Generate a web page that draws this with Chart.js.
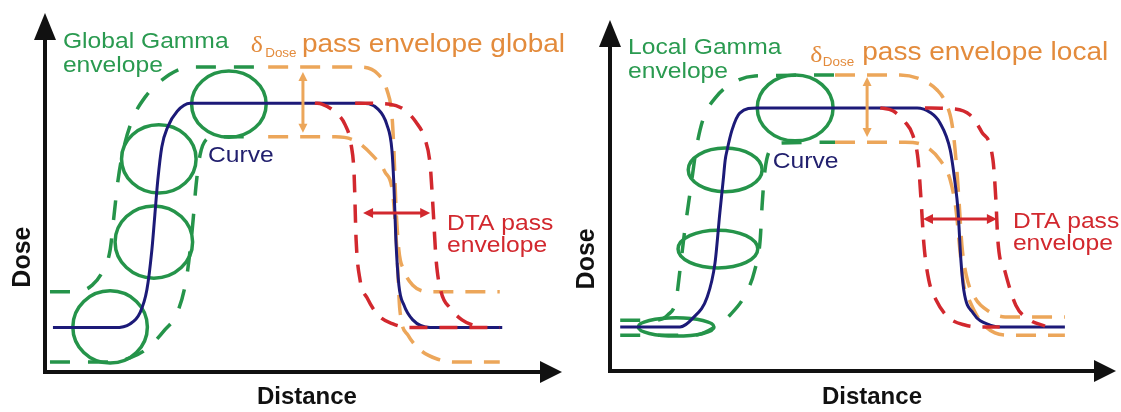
<!DOCTYPE html>
<html lang="en">
<head>
<meta charset="UTF-8">
<title>Global and local gamma envelopes</title>
<script src="https://cdn.jsdelivr.net/npm/chart.js"></script>
<style>
  body { margin: 0; background: #fff; }
  .row { position: relative; width: 1121px; height: 412px; overflow: hidden; }
  .row canvas { position: absolute; top: 0; }
</style>
</head>
<body>
<div class="row">
  <canvas id="globalChart" width="580" height="412" style="left:0"></canvas>
  <canvas id="localChart" width="561" height="412" style="left:560px"></canvas>
</div>
<script>
// axes run 0..100 in both panels ([distance, dose] pairs)

// left panel: global gamma
const globalCurve = [[1.6,13.3],[14.1,13.3],[17.1,14.4],[19.1,17.7],[20.5,24.6],[21.5,36.5],[22.1,47.0],[22.7,57.5],[23.5,67.4],[24.7,73.4],[26.6,78.1],[29.2,80.5],[63.4,80.5],[67.0,78.7],[68.8,74.0],[69.8,66.5],[70.2,56.0],[70.6,39.5],[71.2,26.0],[72.2,20.1],[74.0,15.6],[77.5,13.3],[92.0,13.3]];
const globalGammaUpper = [[1.0,24.0],[6.0,24.0],[9.5,26.0],[11.7,30.5],[13.1,36.5],[13.9,47.0],[14.7,57.5],[15.9,67.4],[17.7,76.0],[20.3,82.6],[23.5,87.4],[27.2,90.7],[30.2,91.3],[43.3,91.3]];
const globalGammaLower = [[1.0,3.0],[13.1,3.0],[17.1,4.2],[20.7,7.2],[24.1,12.6],[26.6,17.7],[28.4,27.5],[29.2,36.5],[29.8,45.5],[30.4,56.0],[31.2,65.0],[32.4,69.5],[34.2,70.4],[43.3,70.4]];
const globalDoseUpper = [[44.9,91.3],[63.4,91.3],[67.0,89.2],[68.8,84.4],[69.8,76.9],[70.2,66.5],[70.6,50.0],[71.2,36.5],[72.2,30.5],[74.0,26.0],[77.5,24.0],[91.5,24.0]];
const globalDoseLower = [[44.9,70.4],[58.4,70.4],[62.4,69.2],[65.8,65.0],[68.4,59.9],[70.0,53.0],[70.8,36.5],[71.4,18.6],[73.0,11.1],[75.5,6.6],[78.9,3.9],[82.5,3.0],[91.5,3.0]];
const globalDtaLeft = [[54.3,80.5],[55.7,80.2],[58.4,77.8],[60.4,74.0],[61.6,68.0],[62.2,59.0],[62.6,39.5],[63.4,27.5],[64.8,22.2],[67.0,17.1],[70.0,14.4],[73.4,13.3],[91.5,13.3]];
const globalDtaRight = [[62.4,80.5],[69.4,80.2],[72.4,78.4],[74.6,74.9],[76.5,69.5],[77.5,62.0],[78.1,48.5],[78.7,33.5],[79.7,24.0],[81.5,19.2],[83.9,15.6],[86.5,13.8],[88.0,13.3]];
const globalRingX = [13.1, 21.9, 22.9, 37.0];
const globalRingY = [13.5, 38.9, 63.8, 80.2];
const globalRingRx = [7.5, 7.8, 7.5, 7.5];
const globalRingRy = [10.8, 10.8, 10.2, 9.9];
const globalDoseArrow = [[51.9,71.6],[51.9,89.8]];
const globalDtaArrow = [[64.0,47.6],[77.5,47.6]];

// right panel: local gamma
const localCurve = [[2.1,13.5],[14.4,13.5],[17.1,16.3],[20.0,22.7],[21.6,33.1],[22.6,48.5],[23.3,58.6],[23.7,64.7],[24.1,67.8],[25.1,73.9],[26.7,79.1],[30.2,80.7],[63.2,80.7],[65.8,79.4],[67.9,76.1],[70.0,67.8],[71.0,57.7],[71.6,49.4],[72.2,34.0],[72.8,24.8],[74.7,17.8],[78.2,14.1],[81.3,13.5],[93.6,13.5]];
const localGammaUpper = [[2.1,15.6],[9.3,15.6],[11.9,17.2],[13.6,21.8],[14.4,31.0],[15.4,43.3],[16.7,57.1],[17.7,67.8],[19.1,77.0],[21.8,84.0],[25.7,88.7],[29.8,90.5],[46.3,90.8]];
const localGammaLower = [[2.1,11.0],[17.5,11.0],[21.6,13.5],[24.7,17.2],[27.8,23.3],[29.8,31.0],[30.9,40.2],[31.3,50.9],[31.9,61.7],[32.9,67.8],[35.0,69.9],[46.3,70.2]];
const localDoseUpper = [[46.3,90.8],[59.7,90.8],[64.2,89.3],[67.3,86.2],[69.1,82.2],[70.4,75.5],[71.2,64.7],[71.8,52.5],[72.4,38.7],[73.3,29.4],[75.1,22.4],[78.2,18.1],[81.3,16.6],[93.6,16.6]];
const localDoseLower = [[46.3,70.2],[60.7,70.2],[64.8,69.0],[67.9,64.7],[70.0,58.6],[71.2,49.4],[72.0,37.1],[72.8,26.4],[74.1,21.2],[76.1,15.6],[79.2,11.7],[82.3,11.0],[93.6,11.0]];
const localDtaLeft = [[55.6,80.7],[58.2,79.8],[60.7,76.4],[62.3,72.4],[63.4,64.7],[64.0,52.5],[64.6,38.7],[65.6,27.9],[67.1,21.8],[69.5,16.6],[73.0,14.1],[77.2,13.5],[80.2,13.5]];
const localDtaRight = [[64.8,80.7],[71.0,80.4],[74.1,78.5],[76.5,73.3],[78.8,64.7],[79.4,52.5],[79.8,40.2],[81.3,30.4],[83.5,20.2],[86.4,15.6],[89.5,13.8]];
const localRingX = [13.6, 22.2, 23.7, 38.1];
const localRingY = [13.5, 37.4, 61.7, 80.7];
const localRingRx = [7.8, 8.2, 7.6, 7.8];
const localRingRy = [2.8, 5.8, 6.7, 10.1];
const localDoseArrow = [[52.9,71.8],[52.9,90.2]];
const localDtaArrow = [[64.4,46.6],[79.6,46.6]];

const GREEN = '#25944a', GREEN_TXT = '#2a9a50';
const ORANGE = '#eca65a', ORANGE_TXT = '#e38b3c';
const RED = '#d2282e';
const NAVY = '#1c1a78', NAVY_TXT = '#22206e';
const SANS = '"Liberation Sans", Arial, sans-serif';
const SERIF = '"Liberation Serif", "Times New Roman", serif';
const STRETCH = 1.12;

function line(pts, color, width, dash) {
  return {
    data: pts.map(([x, y]) => ({x, y})),
    borderColor: color,
    borderWidth: width,
    borderDash: dash || [],
    borderCapStyle: 'butt',
    pointRadius: 0,
    fill: false,
    cubicInterpolationMode: 'monotone'
  };
}

function drawText(ctx, x, y, txt, font, color, rot) {
  ctx.save();
  ctx.translate(x, y);
  if (rot) ctx.rotate(rot);
  else ctx.scale(STRETCH, 1);
  ctx.font = font;
  ctx.fillStyle = color;
  ctx.textAlign = rot ? 'center' : 'left';
  ctx.textBaseline = rot ? 'middle' : 'alphabetic';
  ctx.fillText(txt, 0, 0);
  ctx.restore();
}

function dblArrow(ctx, x1, y1, x2, y2, color, w, head, half) {
  const a = Math.atan2(y2 - y1, x2 - x1), c = Math.cos(a), s = Math.sin(a);
  ctx.save();
  ctx.strokeStyle = color; ctx.fillStyle = color; ctx.lineWidth = w;
  ctx.beginPath();
  ctx.moveTo(x1 + c * head * 0.8, y1 + s * head * 0.8);
  ctx.lineTo(x2 - c * head * 0.8, y2 - s * head * 0.8);
  ctx.stroke();
  [[x1, y1, -1], [x2, y2, 1]].forEach(([px, py, k]) => {
    ctx.beginPath();
    ctx.moveTo(px, py);
    ctx.lineTo(px - k * c * head - s * half, py - k * s * head + c * half);
    ctx.lineTo(px - k * c * head + s * half, py - k * s * head - c * half);
    ctx.closePath();
    ctx.fill();
  });
  ctx.restore();
}

function extras(p) {
  return {
    id: 'extras',
    beforeDatasetsDraw(chart) {
      const {ctx, scales: {x, y}} = chart;
      ctx.save();
      ctx.strokeStyle = GREEN;
      ctx.lineWidth = 3.5;
      p.ringX.forEach((cx, i) => {
        const px = x.getPixelForValue(cx), py = y.getPixelForValue(p.ringY[i]);
        const rx = x.getPixelForValue(cx + p.ringRx[i]) - px;
        const ry = py - y.getPixelForValue(p.ringY[i] + p.ringRy[i]);
        ctx.beginPath();
        ctx.ellipse(px, py, rx, ry, 0, 0, Math.PI * 2);
        ctx.stroke();
      });
      ctx.restore();
    },
    afterDraw(chart) {
      const {ctx, chartArea: {left, right, top, bottom}, scales: {x, y}} = chart;
      const X = v => x.getPixelForValue(v), Y = v => y.getPixelForValue(v);
      // axis arrow heads
      ctx.save();
      ctx.fillStyle = '#111';
      ctx.beginPath();
      ctx.moveTo(left, top - 25); ctx.lineTo(left - 11, top + 2); ctx.lineTo(left + 11, top + 2);
      ctx.fill();
      ctx.beginPath();
      ctx.moveTo(right + 20, bottom); ctx.lineTo(right - 2, bottom - 11); ctx.lineTo(right - 2, bottom + 11);
      ctx.fill();
      ctx.restore();

      const [d0, d1] = p.doseArrow, [t0, t1] = p.dtaArrow;
      dblArrow(ctx, X(d0[0]), Y(d0[1]), X(d1[0]), Y(d1[1]), ORANGE, 3, 9, 4.5);
      dblArrow(ctx, X(t0[0]), Y(t0[1]), X(t1[0]), Y(t1[1]), RED, 3, 10, 5);

      p.notes.forEach(n => drawText(ctx, X(n.x), Y(n.y), n.text, n.font, n.color, n.rot));
    }
  };
}

function notes(o) {
  return [
    {text: o.gamma, x: o.g[0], y: o.g[1], font: '22px ' + SANS, color: GREEN_TXT},
    {text: 'envelope', x: o.g[0], y: o.g[2], font: '22px ' + SANS, color: GREEN_TXT},
    {text: 'δ', x: o.d[0], y: o.d[1], font: '23px ' + SERIF, color: ORANGE_TXT},
    {text: 'Dose', x: o.d[2], y: o.d[3], font: '12px ' + SANS, color: ORANGE_TXT},
    {text: o.pass, x: o.d[4], y: o.d[5], font: '25px ' + SANS, color: ORANGE_TXT},
    {text: 'Curve', x: o.c[0], y: o.c[1], font: '22px ' + SANS, color: NAVY_TXT},
    {text: 'DTA pass', x: o.t[0], y: o.t[1], font: '22px ' + SANS, color: RED},
    {text: 'envelope', x: o.t[0], y: o.t[2], font: '22px ' + SANS, color: RED},
    {text: 'Dose', x: o.ax[0], y: o.ax[1], font: 'bold 25px ' + SANS, color: '#111', rot: -Math.PI / 2},
    {text: 'Distance', x: o.ax[2], y: o.ax[3], font: 'bold 24px ' + SANS, color: '#111', rot: 0.000001}
  ];
}

const axisOpts = {
  type: 'linear', min: 0, max: 100,
  grid: {display: false, drawTicks: false},
  ticks: {display: false},
  border: {display: true, color: '#111', width: 4}
};

function makeChart(id, p, pad) {
  new Chart(document.getElementById(id), {
    type: 'line',
    data: {
      datasets: [
        line(p.dtaLeft, RED, 3.5, [18, 12]),
        line(p.dtaRight, RED, 3.5, [18, 12]),
        line(p.curve, NAVY, 3),
        line(p.doseUpper, ORANGE, 3.5, [20, 12]),
        line(p.doseLower, ORANGE, 3.5, [20, 12]),
        line(p.gammaUpper, GREEN, 3.5, [20, 18]),
        line(p.gammaLower, GREEN, 3.5, [20, 18])
      ]
    },
    options: {
      responsive: false,
      animation: false,
      devicePixelRatio: 1,
      layout: {padding: pad},
      plugins: {legend: {display: false}, tooltip: {enabled: false}},
      scales: {x: axisOpts, y: axisOpts}
    },
    plugins: [extras(p)]
  });
}

makeChart('globalChart', {
  curve: globalCurve, gammaUpper: globalGammaUpper, gammaLower: globalGammaLower,
  doseUpper: globalDoseUpper, doseLower: globalDoseLower,
  dtaLeft: globalDtaLeft, dtaRight: globalDtaRight,
  ringX: globalRingX, ringY: globalRingY, ringRx: globalRingRx, ringRy: globalRingRy,
  doseArrow: globalDoseArrow, dtaArrow: globalDtaArrow,
  notes: notes({
    gamma: 'Global Gamma', pass: 'pass envelope global',
    g: [3.6, 97.0, 89.8], d: [41.4, 95.8, 44.3, 94.3, 51.7, 95.8],
    c: [32.8, 62.9], t: [80.9, 42.5, 35.9], ax: [-4.4, 34.4, 52.7, -7.5]
  })
}, {left: 45, right: 38, top: 38, bottom: 40});

makeChart('localChart', {
  curve: localCurve, gammaUpper: localGammaUpper, gammaLower: localGammaLower,
  doseUpper: localDoseUpper, doseLower: localDoseLower,
  dtaLeft: localDtaLeft, dtaRight: localDtaRight,
  ringX: localRingX, ringY: localRingY, ringRx: localRingRx, ringRy: localRingRy,
  doseArrow: localDoseArrow, dtaArrow: localDtaArrow,
  notes: notes({
    gamma: 'Local Gamma', pass: 'pass envelope local',
    g: [3.7, 97.2, 89.9], d: [41.2, 94.8, 43.8, 93.6, 51.9, 95.4],
    c: [33.5, 62.3], t: [82.9, 43.9, 37.1], ax: [-4.8, 34.4, 53.9, -8.0]
  })
}, {left: 50, right: 25, top: 45, bottom: 41});
</script>
</body>
</html>
